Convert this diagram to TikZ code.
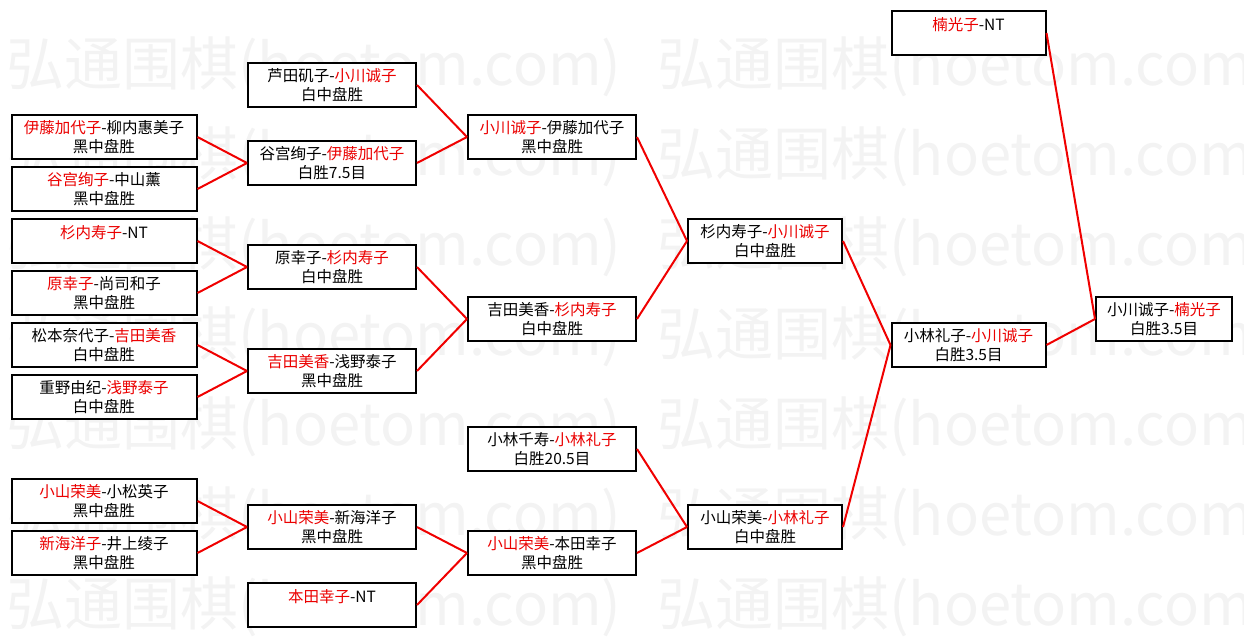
\documentclass[tikz,border=0pt]{standalone}
\usepackage{fontspec}
\setmainfont{Noto Sans CJK SC}
\usepackage{xcolor}
\usepackage{tikz}
\usetikzlibrary{positioning}
\definecolor{winRed}{RGB}{235,0,0}
\definecolor{lineRed}{RGB}{240,0,0}
\definecolor{markGray}{RGB}{243,243,243}
\newcommand{\wname}[1]{\textcolor{winRed}{#1}}
\tikzset{
  game/.style={draw=black, line width=2pt, fill=white, align=center, inner sep=0pt,
    minimum height=44pt, font=\fontsize{15.5}{19}\selectfont},
  boxA/.style={game, minimum width=185pt},
  boxB/.style={game, minimum width=168pt},
  boxC/.style={game, minimum width=154pt},
  boxD/.style={game, minimum width=136pt},
  link/.style={lineRed, line width=2pt},
  wmark/.style={anchor=west, text=markGray, inner sep=0pt, font=\fontsize{58}{58}\selectfont}
}

\begin{document}
\begin{tikzpicture}[x=1pt, y=-1pt]
\useasboundingbox (0,0) rectangle (1244,637);

\node[wmark] (wm1a) at (6,67) {弘通围棋(hoetom.com)};
\node[wmark] (wm1b) at (657,67) {弘通围棋(hoetom.com)};
\node[wmark] (wm2a) at (6,157) {弘通围棋(hoetom.com)};
\node[wmark] (wm2b) at (657,157) {弘通围棋(hoetom.com)};
\node[wmark] (wm3a) at (6,247) {弘通围棋(hoetom.com)};
\node[wmark] (wm3b) at (657,247) {弘通围棋(hoetom.com)};
\node[wmark] (wm4a) at (6,337) {弘通围棋(hoetom.com)};
\node[wmark] (wm4b) at (657,337) {弘通围棋(hoetom.com)};
\node[wmark] (wm5a) at (6,427) {弘通围棋(hoetom.com)};
\node[wmark] (wm5b) at (657,427) {弘通围棋(hoetom.com)};
\node[wmark] (wm6a) at (6,517) {弘通围棋(hoetom.com)};
\node[wmark] (wm6b) at (657,517) {弘通围棋(hoetom.com)};
\node[wmark] (wm7a) at (6,607) {弘通围棋(hoetom.com)};
\node[wmark] (wm7b) at (657,607) {弘通围棋(hoetom.com)};

\node[boxA] (r1a) at (104,137) {\wname{伊藤加代子}-柳内惠美子\\黑中盘胜};
\node[boxA] (r1b) at (104,189) {\wname{谷宫绚子}-中山薰\\黑中盘胜};
\node[boxA] (r1c) at (104,241) {\wname{杉内寿子}-NT\\ ~};
\node[boxA] (r1d) at (104,293) {\wname{原幸子}-尚司和子\\黑中盘胜};
\node[boxA] (r1e) at (104,345) {松本奈代子-\wname{吉田美香}\\白中盘胜};
\node[boxA] (r1f) at (104,397) {重野由纪-\wname{浅野泰子}\\白中盘胜};
\node[boxA] (r1g) at (104,501) {\wname{小山荣美}-小松英子\\黑中盘胜};
\node[boxA] (r1h) at (104,553) {\wname{新海洋子}-井上绫子\\黑中盘胜};

\node[boxB] (r2a) at (332,85) {芦田矶子-\wname{小川诚子}\\白中盘胜};
\node[boxB] (r2b) at (332,163) {谷宫绚子-\wname{伊藤加代子}\\白胜7.5目};
\node[boxB] (r2c) at (332,267) {原幸子-\wname{杉内寿子}\\白中盘胜};
\node[boxB] (r2d) at (332,371) {\wname{吉田美香}-浅野泰子\\黑中盘胜};
\node[boxB] (r2e) at (332,527) {\wname{小山荣美}-新海洋子\\黑中盘胜};
\node[boxB] (r2f) at (332,605) {\wname{本田幸子}-NT\\ ~};

\node[boxB] (r3a) at (552,137) {\wname{小川诚子}-伊藤加代子\\黑中盘胜};
\node[boxB] (r3b) at (552,319) {吉田美香-\wname{杉内寿子}\\白中盘胜};
\node[boxB] (r3c) at (552,449) {小林千寿-\wname{小林礼子}\\白胜20.5目};
\node[boxB] (r3d) at (552,553) {\wname{小山荣美}-本田幸子\\黑中盘胜};

\node[boxC] (r4a) at (765,241) {杉内寿子-\wname{小川诚子}\\白中盘胜};
\node[boxC] (r4b) at (765,527) {小山荣美-\wname{小林礼子}\\白中盘胜};

\node[boxC] (r5a) at (968.5,33) {\wname{楠光子}-NT\\ ~};
\node[boxC] (r5b) at (968.5,345) {小林礼子-\wname{小川诚子}\\白胜3.5目};

\node[boxD] (fin) at (1164,319) {小川诚子-\wname{楠光子}\\白胜3.5目};

\draw[link] (r1a.east) -- (r2b.west);
\draw[link] (r1b.east) -- (r2b.west);
\draw[link] (r1c.east) -- (r2c.west);
\draw[link] (r1d.east) -- (r2c.west);
\draw[link] (r1e.east) -- (r2d.west);
\draw[link] (r1f.east) -- (r2d.west);
\draw[link] (r1g.east) -- (r2e.west);
\draw[link] (r1h.east) -- (r2e.west);

\draw[link] (r2a.east) -- (r3a.west);
\draw[link] (r2b.east) -- (r3a.west);
\draw[link] (r2c.east) -- (r3b.west);
\draw[link] (r2d.east) -- (r3b.west);
\draw[link] (r2e.east) -- (r3d.west);
\draw[link] (r2f.east) -- (r3d.west);

\draw[link] (r3a.east) -- (r4a.west);
\draw[link] (r3b.east) -- (r4a.west);
\draw[link] (r3c.east) -- (r4b.west);
\draw[link] (r3d.east) -- (r4b.west);

\draw[link] (r4a.east) -- (r5b.west);
\draw[link] (r4b.east) -- (r5b.west);

\draw[link] (r5a.east) -- (fin.west);
\draw[link] (r5b.east) -- (fin.west);
\end{tikzpicture}
\end{document}
